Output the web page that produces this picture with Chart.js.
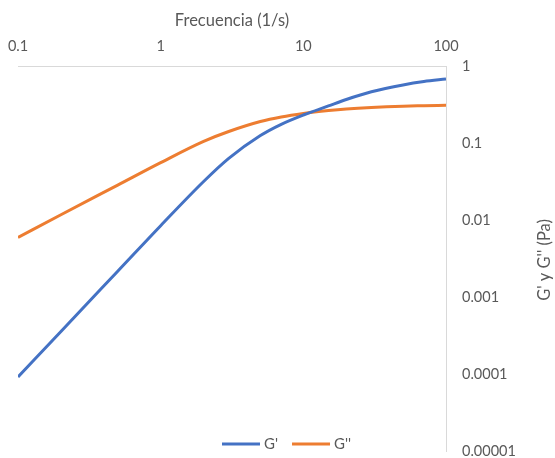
<!DOCTYPE html>
<html>
<head>
<meta charset="utf-8">
<title>G' y G''</title>
<script src="https://cdn.jsdelivr.net/npm/chart.js@4.4.1/dist/chart.umd.min.js"></script>
<style>
html, body { margin: 0; padding: 0; background: #ffffff; }
#wrap { width: 555px; height: 458px; }
</style>
</head>
<body>
<div id="wrap"><canvas id="myChart" width="555" height="458"></canvas></div>
<script>
// frecuencias (1/s) y modulos
var frecuencias = [0.1, 0.2, 0.5, 1, 2, 3, 5, 7, 10, 15, 20, 30, 50, 70, 100];
var gPrima = [0.0000914, 0.000357, 0.00216, 0.00843, 0.0316, 0.0631, 0.125, 0.175, 0.231, 0.303, 0.367, 0.462, 0.568, 0.629, 0.678];
var gDoblePrima = [0.00593, 0.0117, 0.0284, 0.0556, 0.105, 0.141, 0.190, 0.218, 0.242, 0.264, 0.277, 0.290, 0.301, 0.305, 0.309];

var xTicks = [0.1, 1, 10, 100];
var xTickLabels = ['0.1', '1', '10', '100'];
var yTicks = [0.00001, 0.0001, 0.001, 0.01, 0.1, 1];
var yTickLabels = ['0.00001', '0.0001', '0.001', '0.01', '0.1', '1'];

var fuente = 'Lato, "Open Sans", sans-serif';
var gris = '#595959';
var grisEje = '#d9d9d9';

function toPoints(xs, ys) {
    var pts = [];
    for (var i = 0; i < xs.length; i++) {
        pts.push({x: xs[i], y: ys[i]});
    }
    return pts;
}

function labelFor(v, vals, labels) {
    for (var i = 0; i < vals.length; i++) {
        if (Math.abs(Math.log10(v) - Math.log10(vals[i])) < 1e-6) return labels[i];
    }
    return '';
}

// titulo del eje Y (de abajo hacia arriba) y leyenda dentro del grafico
var extras = {
    id: 'extras',
    afterDraw: function(chart) {
        var ctx = chart.ctx;
        ctx.save();
        ctx.fillStyle = gris;
        ctx.font = '16.5px ' + fuente;
        ctx.textAlign = 'center';
        ctx.textBaseline = 'middle';
        ctx.translate(545, 260);
        ctx.rotate(-Math.PI / 2);
        ctx.fillText("G' y G'' (Pa)", 0, 0);
        ctx.restore();

        ctx.save();
        var x = 222;
        var y = 444;
        ctx.font = '15px ' + fuente;
        ctx.textBaseline = 'middle';
        ctx.textAlign = 'left';
        chart.data.datasets.forEach(function(ds) {
            ctx.strokeStyle = ds.borderColor;
            ctx.lineWidth = 3;
            ctx.beginPath();
            ctx.moveTo(x, y);
            ctx.lineTo(x + 38, y);
            ctx.stroke();
            ctx.fillStyle = gris;
            ctx.fillText(ds.label, x + 42, y);
            x += 42 + ctx.measureText(ds.label).width + 14;
        });
        ctx.restore();
    }
};

config = {
    type: 'line',
    data: {
        datasets: [{
            label: "G'",
            data: toPoints(frecuencias, gPrima),
            borderColor: '#4472C4',
            backgroundColor: '#4472C4',
            borderWidth: 3,
            pointRadius: 0,
            cubicInterpolationMode: 'monotone',
            fill: false
        },
        {
            label: "G''",
            data: toPoints(frecuencias, gDoblePrima),
            borderColor: '#ED7D31',
            backgroundColor: '#ED7D31',
            borderWidth: 3,
            pointRadius: 0,
            cubicInterpolationMode: 'monotone',
            fill: false
        }]
    },
    options: {
        responsive: false,
        animation: false,
        layout: {
            padding: {left: 18, top: 0, right: 0, bottom: 7}
        },
        plugins: {
            legend: {display: false},
            tooltip: {enabled: false}
        },
        scales: {
            x: {
                type: 'logarithmic',
                position: 'top',
                min: 0.1,
                max: 100,
                afterBuildTicks: function(scale) {
                    scale.ticks = xTicks.map(function(v) { return {value: v}; });
                },
                afterFit: function(scale) {
                    scale.height = 66;
                    scale.paddingLeft = 0;
                    scale.paddingRight = 0;
                },
                ticks: {
                    autoSkip: false,
                    maxRotation: 0,
                    padding: 11,
                    color: gris,
                    font: {family: fuente, size: 14.5},
                    callback: function(v) { return labelFor(v, xTicks, xTickLabels); }
                },
                grid: {drawOnChartArea: false, drawTicks: false},
                border: {display: true, color: grisEje, width: 1},
                title: {
                    display: true,
                    text: 'Frecuencia (1/s)',
                    color: gris,
                    font: {family: fuente, size: 16.5},
                    padding: {top: 11, bottom: 0}
                }
            },
            y: {
                type: 'logarithmic',
                position: 'right',
                min: 0.00001,
                max: 1,
                afterBuildTicks: function(scale) {
                    scale.ticks = yTicks.map(function(v) { return {value: v}; });
                },
                afterFit: function(scale) {
                    scale.width = 109;
                    scale.paddingTop = 0;
                    scale.paddingBottom = 0;
                },
                ticks: {
                    autoSkip: false,
                    padding: 16,
                    color: gris,
                    font: {family: fuente, size: 14.5},
                    callback: function(v) { return labelFor(v, yTicks, yTickLabels); }
                },
                grid: {drawOnChartArea: false, drawTicks: false},
                border: {display: true, color: grisEje, width: 1}
            }
        }
    },
    plugins: [extras]
};

const ctx = document.getElementById('myChart');
const myChart = new Chart(ctx, config);
</script>
</body>
</html>
